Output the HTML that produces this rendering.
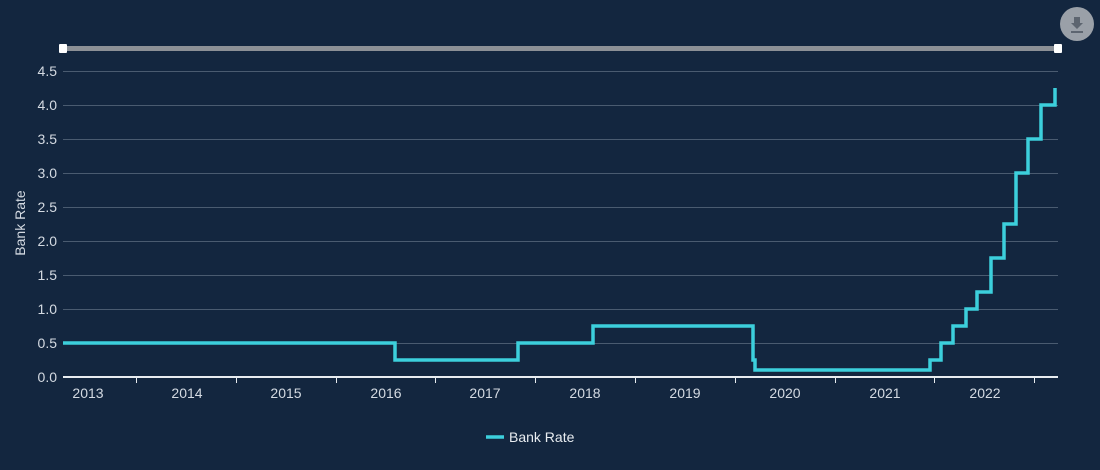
<!DOCTYPE html>
<html><head><meta charset="utf-8"><style>
html,body{margin:0;padding:0;background:#13263f;}
svg{display:block;font-family:"Liberation Sans",sans-serif;}
</style></head><body>
<svg width="1100" height="470" viewBox="0 0 1100 470">
<rect width="1100" height="470" fill="#13263f"/>
<circle cx="1077" cy="24" r="17" fill="#9aa0a8"/>
<path d="M1074 17h6v6h3l-6 6-6-6h3z" fill="#5d6570"/>
<rect x="1071" y="31" width="12" height="2" fill="#5d6570"/>
<rect x="63" y="46" width="995" height="5" fill="#8c9096"/>
<rect x="59" y="44" width="8" height="9" rx="1" fill="#fff"/>
<rect x="1054" y="44" width="8" height="9" rx="1" fill="#fff"/>
<g stroke="#4a5b70" stroke-width="1">
<line x1="63" x2="1058" y1="71.5" y2="71.5"/><line x1="63" x2="1058" y1="105.5" y2="105.5"/>
<line x1="63" x2="1058" y1="139.5" y2="139.5"/><line x1="63" x2="1058" y1="173.5" y2="173.5"/>
<line x1="63" x2="1058" y1="207.5" y2="207.5"/><line x1="63" x2="1058" y1="241.5" y2="241.5"/>
<line x1="63" x2="1058" y1="275.5" y2="275.5"/><line x1="63" x2="1058" y1="309.5" y2="309.5"/>
<line x1="63" x2="1058" y1="343.5" y2="343.5"/>
</g>
<line x1="63" x2="1058" y1="377" y2="377" stroke="#e8ecf0" stroke-width="2"/>
<g stroke="#e8ecf0" stroke-width="1">
<line x1="136.5" x2="136.5" y1="377" y2="383"/><line x1="236.5" x2="236.5" y1="377" y2="383"/>
<line x1="336.5" x2="336.5" y1="377" y2="383"/><line x1="435.5" x2="435.5" y1="377" y2="383"/>
<line x1="535.5" x2="535.5" y1="377" y2="383"/><line x1="635.5" x2="635.5" y1="377" y2="383"/>
<line x1="735.5" x2="735.5" y1="377" y2="383"/><line x1="835.5" x2="835.5" y1="377" y2="383"/>
<line x1="934.5" x2="934.5" y1="377" y2="383"/><line x1="1034.5" x2="1034.5" y1="377" y2="383"/>
</g>
<g fill="#d4dae2" font-size="14" text-anchor="end">
<text x="57" y="76">4.5</text><text x="57" y="110">4.0</text><text x="57" y="144">3.5</text>
<text x="57" y="178">3.0</text><text x="57" y="212">2.5</text><text x="57" y="246">2.0</text>
<text x="57" y="280">1.5</text><text x="57" y="314">1.0</text><text x="57" y="348">0.5</text>
<text x="57" y="382">0.0</text>
</g>
<g fill="#d4dae2" font-size="14" text-anchor="middle">
<text x="88" y="398">2013</text><text x="187" y="398">2014</text><text x="286" y="398">2015</text>
<text x="386" y="398">2016</text><text x="485" y="398">2017</text><text x="585" y="398">2018</text>
<text x="685" y="398">2019</text><text x="785" y="398">2020</text><text x="885" y="398">2021</text>
<text x="985" y="398">2022</text>
</g>
<text transform="translate(25,223) rotate(-90)" fill="#d4dae2" font-size="14" text-anchor="middle">Bank Rate</text>
<path d="M63 343H395V360H518V343H593V326H753V360H755V370H930V360H941V343H953V326H966V309H977V292H991V258H1004V224H1016V173H1028V139H1041V105H1055V88" fill="none" stroke="#3ccfdc" stroke-width="3.5" stroke-linejoin="miter"/>
<line x1="486" x2="504" y1="437" y2="437" stroke="#3ccfdc" stroke-width="3.5"/>
<text x="509" y="442" fill="#e8ecf0" font-size="14">Bank Rate</text>
</svg>
</body></html>
